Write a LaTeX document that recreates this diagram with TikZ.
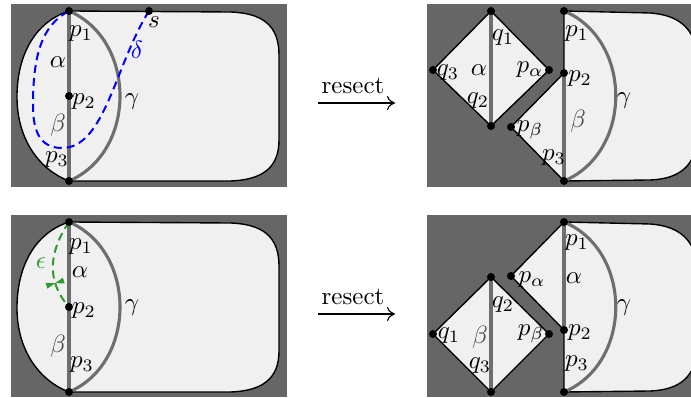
\documentclass[tikz,border=0pt]{standalone}
\usetikzlibrary{arrows.meta,decorations.markings}
\definecolor{bgdark}{HTML}{666666}
\definecolor{lightfill}{HTML}{F0F0F0}
\definecolor{seamgray}{HTML}{6E6E6E}
\definecolor{betagray}{HTML}{444444}
\definecolor{epsgreen}{HTML}{2E9A2E}
\begin{document}
\begin{tikzpicture}[x=0.4pt,y=-0.4pt,
  panel/.style={fill=bgdark},
  region/.style={fill=lightfill,draw=black,line width=0.55pt,line join=round},
  seam/.style={draw=seamgray,line width=1.25pt},
  dot/.style={circle,fill=black,inner sep=0pt,minimum size=3.2pt},
  lab/.style={inner sep=0pt},
  cutpath/.style={line width=0.8pt,dash pattern=on 3.2pt off 2pt},
  resectarrow/.style={line width=0.45pt,-{Computer Modern Rightarrow[length=3.2pt,width=5.6pt]}},
  bowtie/.style={decoration={markings,mark=at position 0.7 with {
      \fill[epsgreen,solid] (0,0) -- (-1.2pt,3.6pt) -- (1.2pt,3.6pt) -- cycle;
      \fill[epsgreen,solid] (0,0) -- (-1.2pt,-3.6pt) -- (1.2pt,-3.6pt) -- cycle;}},
    postaction={decorate}}
]
\useasboundingbox (0,0) rectangle (691,398);

% ---------------- top-left panel ----------------
\fill[panel] (11,4) rectangle (287,187);
\coordinate (A1) at (69,11);
\coordinate (A2) at (69,96);
\coordinate (A3) at (69,181);
\coordinate (As) at (149,11);
\draw[region] (A1) -- (230,12) .. controls (262,13) and (279,25) .. (279,55)
  -- (279,140) .. controls (279,168) and (262,180) .. (230,181) -- (A3)
  .. controls (40,170) and (17,140) .. (17,97) .. controls (17,55) and (35,22) .. cycle;
\draw[seam] (A1) -- (A3);
\draw[seam] (A1) .. controls (137,40) and (137,152) .. (A3);
\draw[cutpath,blue] (As) .. controls (115,65) and (105,148) .. (62,148)
  .. controls (38,148) and (33,128) .. (33,105) .. controls (33,55) and (42,25) .. (A1);
\node[dot] (dA1) at (A1) {};
\node[dot] (dA2) at (A2) {};
\node[dot] (dA3) at (A3) {};
\node[dot] (dAs) at (As) {};
\node[lab] (lA1) at (81,34) {$p_1$};
\node[lab] (lAa) at (58,62) {$\alpha$};
\node[lab] (lA2) at (84,102) {$p_2$};
\node[lab,text=betagray] (lAb) at (58,125) {$\beta$};
\node[lab] (lA3) at (57,160) {$p_3$};
\node[lab] (lAg) at (132,102) {$\gamma$};
\node[lab] (lAs) at (154,22) {$s$};
\node[lab,text=blue] (lAd) at (137,50) {$\delta$};

% ---------------- bottom-left panel ----------------
\fill[panel] (11,215) rectangle (287,397);
\coordinate (B1) at (69,222);
\coordinate (B2) at (69,307);
\coordinate (B3) at (69,392);
\draw[region] (B1) -- (230,223) .. controls (262,224) and (279,236) .. (279,266)
  -- (279,351) .. controls (279,379) and (262,391) .. (230,392) -- (B3)
  .. controls (40,381) and (17,351) .. (17,308) .. controls (17,266) and (35,233) .. cycle;
\draw[seam] (B1) -- (B3);
\draw[seam] (B1) .. controls (137,251) and (137,363) .. (B3);
\draw[cutpath,epsgreen,bowtie] (B1) .. controls (50,250) and (45,280) .. (B2);
\node[dot] (dB1) at (B1) {};
\node[dot] (dB2) at (B2) {};
\node[dot] (dB3) at (B3) {};
\node[lab] (lB1) at (81,247) {$p_1$};
\node[lab,text=epsgreen] (lBe) at (41,263) {$\epsilon$};
\node[lab] (lBa) at (80,272) {$\alpha$};
\node[lab] (lB2) at (84,311) {$p_2$};
\node[lab] (lBg) at (132,308) {$\gamma$};
\node[lab,text=betagray] (lBb) at (58,346) {$\beta$};
\node[lab] (lB3) at (82,365) {$p_3$};

% ---------------- top-right panel ----------------
\fill[panel] (427,4) rectangle (695,187);
\coordinate (C1) at (564,11);
\coordinate (C2) at (564,73);
\coordinate (C3) at (564,181);
\coordinate (Cb) at (511,127);
\coordinate (D1) at (491,11);
\coordinate (Dl) at (433,70);
\coordinate (Dr) at (549,70);
\coordinate (Db) at (491,126);
\draw[region] (C1) -- (650,13) .. controls (680,15) and (697,30) .. (697,60)
  -- (697,135) .. controls (697,165) and (680,179) .. (650,180) -- (C3) -- cycle;
\draw[region] (C2) -- (Cb) -- (C3) -- cycle;
\draw[region] (D1) -- (Dr) -- (Db) -- (Dl) -- cycle;
\draw[seam] (D1) -- (Db);
\draw[seam] (C2) -- (C3);
\draw[seam] (C1) .. controls (633,40) and (633,152) .. (C3);
\node[dot] (dC1) at (C1) {};
\node[dot] (dC2) at (C2) {};
\node[dot] (dC3) at (C3) {};
\node[dot] (dCb) at (Cb) {};
\node[dot] (dD1) at (D1) {};
\node[dot] (dDl) at (Dl) {};
\node[dot] (dDr) at (Dr) {};
\node[dot] (dDb) at (Db) {};
\node[lab] (lC1) at (577,34) {$p_1$};
\node[lab] (lC2) at (580,79) {$p_2$};
\node[lab] (lCg) at (624,101) {$\gamma$};
\node[lab,text=betagray] (lCbeta) at (578,121) {$\beta$};
\node[lab] (lCpb) at (530,130) {$p_\beta$};
\node[lab] (lC3) at (554,158) {$p_3$};
\node[lab] (lDq1) at (503,38) {$q_1$};
\node[lab] (lDq3) at (448,73) {$q_3$};
\node[lab] (lDa) at (479,70) {$\alpha$};
\node[lab] (lDpa) at (530,70) {$p_\alpha$};
\node[lab] (lDq2) at (478,101) {$q_2$};

% ---------------- bottom-right panel ----------------
\fill[panel] (427,215) rectangle (695,397);
\coordinate (E1) at (564,222);
\coordinate (E2) at (564,330);
\coordinate (E3) at (564,392);
\coordinate (Ea) at (511,276);
\coordinate (F1) at (491,277);
\coordinate (Fl) at (433,334);
\coordinate (Fr) at (549,334);
\coordinate (Fb) at (491,392);
\draw[region] (E1) -- (650,224) .. controls (680,226) and (697,241) .. (697,271)
  -- (697,346) .. controls (697,376) and (680,390) .. (650,391) -- (E3) -- cycle;
\draw[region] (E1) -- (Ea) -- (E2) -- cycle;
\draw[region] (F1) -- (Fr) -- (Fb) -- (Fl) -- cycle;
\draw[seam] (F1) -- (Fb);
\draw[seam] (E1) -- (E2);
\draw[seam] (E1) .. controls (633,251) and (633,363) .. (E3);
\node[dot] (dE1) at (E1) {};
\node[dot] (dE2) at (E2) {};
\node[dot] (dE3) at (E3) {};
\node[dot] (dEa) at (Ea) {};
\node[dot] (dF1) at (F1) {};
\node[dot] (dFl) at (Fl) {};
\node[dot] (dFr) at (Fr) {};
\node[dot] (dFb) at (Fb) {};
\node[lab] (lE1) at (577,243) {$p_1$};
\node[lab] (lEa) at (574,278) {$\alpha$};
\node[lab] (lEpa) at (532,280) {$p_\alpha$};
\node[lab] (lEg) at (624,308) {$\gamma$};
\node[lab] (lE2) at (580,333) {$p_2$};
\node[lab] (lE3) at (577,364) {$p_3$};
\node[lab] (lFq2) at (503,305) {$q_2$};
\node[lab] (lFq1) at (449,336) {$q_1$};
\node[lab,text=betagray] (lFb) at (480,337) {$\beta$};
\node[lab] (lFpb) at (531,334) {$p_\beta$};
\node[lab] (lFq3) at (480,366) {$q_3$};

% ---------------- resect arrows ----------------
\coordinate (R1s) at (318,103);
\coordinate (R1e) at (395,103);
\draw[resectarrow] (R1s) -- (R1e);
\node[lab] (lR1) at (353,86) {resect};
\coordinate (R2s) at (318,314);
\coordinate (R2e) at (395,314);
\draw[resectarrow] (R2s) -- (R2e);
\node[lab] (lR2) at (353,297) {resect};
\end{tikzpicture}
\end{document}
